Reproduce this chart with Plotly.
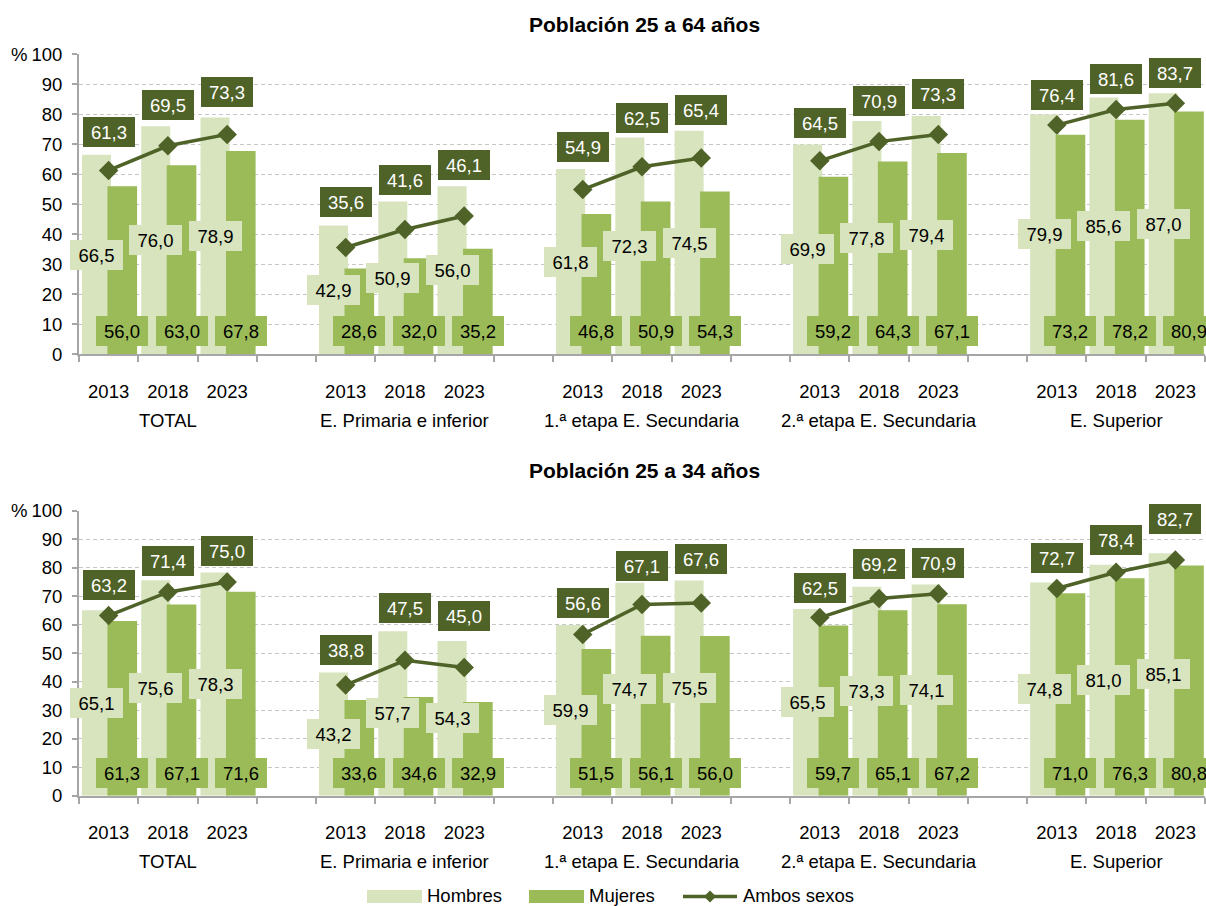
import plotly.graph_objects as go

# ---------------- data ----------------
years = ["2013", "2018", "2023"]
groups = ["TOTAL", "E. Primaria e inferior", "1.ª etapa E. Secundaria",
          "2.ª etapa E. Secundaria", "E. Superior"]
titles = ["Población 25 a 64 años", "Población 25 a 34 años"]

hombres_64 = [66.5, 76.0, 78.9, 42.9, 50.9, 56.0, 61.8, 72.3, 74.5, 69.9, 77.8, 79.4, 79.9, 85.6, 87.0]
mujeres_64 = [56.0, 63.0, 67.8, 28.6, 32.0, 35.2, 46.8, 50.9, 54.3, 59.2, 64.3, 67.1, 73.2, 78.2, 80.9]
ambos_64 = [61.3, 69.5, 73.3, 35.6, 41.6, 46.1, 54.9, 62.5, 65.4, 64.5, 70.9, 73.3, 76.4, 81.6, 83.7]

hombres_34 = [65.1, 75.6, 78.3, 43.2, 57.7, 54.3, 59.9, 74.7, 75.5, 65.5, 73.3, 74.1, 74.8, 81.0, 85.1]
mujeres_34 = [61.3, 67.1, 71.6, 33.6, 34.6, 32.9, 51.5, 56.1, 56.0, 59.7, 65.1, 67.2, 71.0, 76.3, 80.8]
ambos_34 = [63.2, 71.4, 75.0, 38.8, 47.5, 45.0, 56.6, 67.1, 67.6, 62.5, 69.2, 70.9, 72.7, 78.4, 82.7]

# label placement (pixels above the marker) for the "Ambos sexos" labels
ambos_shift_64 = [38, 41, 42, 45, 49, 51, 43, 49, 48, 38, 41, 40, 30, 30, 30]
ambos_shift_34 = [31, 31, 31, 35, 52, 51, 31, 38, 44, 30, 34, 31, 31, 32, 41]

# ---------------- style ----------------
C_H = "#d7e4bd"
C_M = "#9bbb59"
C_A = "#4f6228"
GREY = "#a6a6a6"
FONT = "Liberation Sans, Arial, sans-serif"
FS = 18.5
W, H = 1206, 906


def fmt(v):
    return f"{v:.1f}".replace(".", ",")


slots = [4 * g + j for g in range(len(groups)) for j in range(len(years))]
boundaries = [i - 0.5 for i in range(20)]

H_OFF, H_W = -0.45, 0.49
M_OFF, M_W = -0.02, 0.50

panels = [
    dict(h=hombres_64, m=mujeres_64, a=ambos_64, sh=ambos_shift_64, xa="x", ya="y",
         ydom=[(H - 354.3) / H, (H - 54.3) / H], title_y=24.5, title=titles[0]),
    dict(h=hombres_34, m=mujeres_34, a=ambos_34, sh=ambos_shift_34, xa="x2", ya="y2",
         ydom=[(H - 795.7) / H, (H - 510.7) / H], title_y=470, title=titles[1]),
]

fig = go.Figure()
annotations = []
shapes = []

for p in panels:
    fig.add_trace(go.Bar(x=slots, y=p["h"], offset=H_OFF, width=H_W, marker_color=C_H,
                         marker_line_width=0, xaxis=p["xa"], yaxis=p["ya"], name="Hombres",
                         showlegend=False))
    fig.add_trace(go.Bar(x=slots, y=p["m"], offset=M_OFF, width=M_W, marker_color=C_M,
                         marker_line_width=0, xaxis=p["xa"], yaxis=p["ya"], name="Mujeres",
                         showlegend=False))
    xl, yl = [], []
    for g in range(len(groups)):
        for j in range(len(years)):
            k = 3 * g + j
            xl.append(slots[k])
            yl.append(p["a"][k])
        xl.append(None)
        yl.append(None)
    fig.add_trace(go.Scatter(x=xl, y=yl, mode="lines+markers", connectgaps=False,
                             line=dict(color=C_A, width=3.5),
                             marker=dict(symbol="diamond", size=15, color=C_A),
                             xaxis=p["xa"], yaxis=p["ya"], name="Ambos sexos",
                             showlegend=False))

    for k, x in enumerate(slots):
        annotations.append(dict(
            x=x + H_OFF + H_W / 2, y=p["h"][k] / 2, xref=p["xa"], yref=p["ya"],
            text=fmt(p["h"][k]), showarrow=False, bgcolor=C_H, width=53, height=30,
            borderpad=0, borderwidth=0, font=dict(size=FS, color="#000000", family=FONT)))
        annotations.append(dict(
            x=x + M_OFF + M_W / 2, y=0, xref=p["xa"], yref=p["ya"], yanchor="bottom", yshift=8,
            text=fmt(p["m"][k]), showarrow=False, bgcolor=C_M, width=52, height=30,
            borderpad=0, borderwidth=0, font=dict(size=FS, color="#000000", family=FONT)))
        annotations.append(dict(
            x=x, y=p["a"][k], xref=p["xa"], yref=p["ya"], yshift=p["sh"][k],
            text=fmt(p["a"][k]), showarrow=False, bgcolor=C_A, width=52, height=30,
            borderpad=0, borderwidth=0, font=dict(size=FS, color="#ffffff", family=FONT)))

    for g, name in enumerate(groups):
        annotations.append(dict(
            x=4 * g + 1, y=0, xref=p["xa"], yref=p["ya"] + " domain", yshift=-66,
            text=name, showarrow=False, yanchor="middle",
            font=dict(size=FS, color="#000000", family=FONT)))

    # title
    annotations.append(dict(x=645 / W, y=1 - p["title_y"] / H, xref="paper", yref="paper",
                            text="<b>" + p["title"] + "</b>", showarrow=False,
                            xanchor="center", yanchor="middle",
                            font=dict(size=21, color="#000000", family=FONT)))
    # % sign
    annotations.append(dict(x=18.5 / W, y=p["ydom"][1], xref="paper", yref="paper",
                            text="%", showarrow=False, xanchor="center", yanchor="middle",
                            font=dict(size=FS, color="#000000", family=FONT)))

# ---------------- custom legend ----------------
LY = 895.5
LL = 896.5


def px(x):
    return x / W


def py(y):
    return 1 - y / H


shapes.append(dict(type="rect", xref="paper", yref="paper", x0=px(367), x1=px(422),
                   y0=py(903), y1=py(890), fillcolor=C_H, line=dict(width=0)))
shapes.append(dict(type="rect", xref="paper", yref="paper", x0=px(529), x1=px(584),
                   y0=py(903), y1=py(890), fillcolor=C_M, line=dict(width=0)))
shapes.append(dict(type="line", xref="paper", yref="paper", x0=px(683), x1=px(737),
                   y0=py(LL), y1=py(LL), line=dict(color=C_A, width=3.5)))
d = 6
shapes.append(dict(type="path", xref="paper", yref="paper",
                   path=f"M {px(710 - d)},{py(LL)} L {px(710)},{py(LL - d)} L {px(710 + d)},{py(LL)} L {px(710)},{py(LL + d)} Z",
                   fillcolor=C_A, line=dict(width=0)))
for xx, txt in [(425, "Hombres"), (587, "Mujeres"), (741, "Ambos sexos")]:
    annotations.append(dict(x=px(xx), y=py(LY), xref="paper", yref="paper", text=txt,
                            showarrow=False, xanchor="left", yanchor="middle",
                            font=dict(size=FS, color="#000000", family=FONT)))

# ---------------- axes ----------------
xdom = [79 / W, 1205 / W]
axis_common_x = dict(
    domain=xdom, range=[-0.5, 18.5], tickmode="array", tickvals=slots,
    ticktext=years * len(groups), ticks="", showgrid=False, zeroline=False,
    showline=True, linecolor=GREY, linewidth=2, automargin=False,
    ticklabelstandoff=19, tickfont=dict(size=FS, color="#000000", family=FONT),
    minor=dict(tickmode="array", tickvals=boundaries, ticks="outside", ticklen=6,
               tickcolor=GREY, tickwidth=1.5, showgrid=False),
    fixedrange=True,
)
axis_common_y = dict(
    range=[0, 100], tickmode="linear", tick0=0, dtick=10, showgrid=True,
    gridcolor="#c6c6c6", griddash="4px,3px", gridwidth=1, zeroline=False,
    showline=True, linecolor=GREY, linewidth=2, ticks="outside", ticklen=5,
    tickcolor=GREY, tickwidth=1.5, automargin=False, ticklabelstandoff=6,
    tickfont=dict(size=FS, color="#000000", family=FONT), fixedrange=True,
)

fig.update_layout(
    width=W, height=H,
    margin=dict(l=0, r=0, t=0, b=0, pad=0),
    paper_bgcolor="white", plot_bgcolor="white",
    barmode="overlay", showlegend=False,
    font=dict(family=FONT, size=FS, color="#000000"),
    xaxis=dict(axis_common_x, anchor="y"),
    yaxis=dict(axis_common_y, domain=panels[0]["ydom"], anchor="x"),
    xaxis2=dict(axis_common_x, anchor="y2"),
    yaxis2=dict(axis_common_y, domain=panels[1]["ydom"], anchor="x2"),
    annotations=annotations,
    shapes=shapes,
)

fig.write_html(
    "out.html",
    config={"displayModeBar": False},
    post_script="document.body.style.margin='0px';document.body.style.overflow='hidden';",
)
